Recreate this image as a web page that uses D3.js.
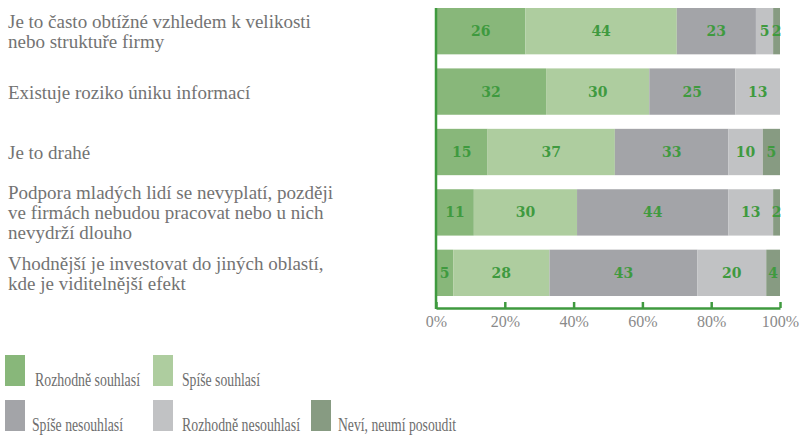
<!DOCTYPE html>
<html>
<head>
<meta charset="utf-8">
<script src="https://cdn.jsdelivr.net/npm/d3@7"></script>
<style>
  body { margin: 0; background: #fff; }
  svg { display: block; }
</style>
</head>
<body>
<div id="chart"></div>
<script>
var categories = [
    ['Je to často obtížné vzhledem k velikosti', 'nebo struktuře firmy'],
    ['Existuje roziko úniku informací'],
    ['Je to drahé'],
    ['Podpora mladých lidí se nevyplatí, později', 've firmách nebudou pracovat nebo u nich', 'nevydrží dlouho'],
    ['Vhodnější je investovat do jiných oblastí,', 'kde je viditelnější efekt']
];
var seriesNames = ['Rozhodně souhlasí', 'Spíše souhlasí', 'Spíše nesouhlasí', 'Rozhodně nesouhlasí', 'Neví, neumí posoudit'];
var rozhodneSouhlasi = [26, 32, 15, 11, 5];
var spiseSouhlasi = [44, 30, 37, 30, 28];
var spiseNesouhlasi = [23, 25, 33, 44, 43];
var rozhodneNesouhlasi = [5, 13, 10, 13, 20];
var neviNeumi = [2, 0, 5, 2, 4];
var tickValues = [0, 0.2, 0.4, 0.6, 0.8, 1];

var colors = ['#88b77a', '#aecd9f', '#a3a4a8', '#c1c2c4', '#879b82'];
var series = [rozhodneSouhlasi, spiseSouhlasi, spiseNesouhlasi, rozhodneNesouhlasi, neviNeumi];
var serif = "'Liberation Serif', 'Times New Roman', serif";

var width = 802, height = 435;
var svg = d3.select('#chart').append('svg')
    .attr('width', width)
    .attr('height', height);

var x = d3.scaleLinear().domain([0, 1]).range([436, 780]);
var y = d3.scaleBand().domain(d3.range(categories.length)).range([8, 296]).paddingInner(0.233);

// stacked rows
var rows = categories.map(function(c, i) {
    var row = {};
    seriesNames.forEach(function(s, j) { row[s] = series[j][i] / 100; });
    return row;
});
var stacked = d3.stack().keys(seriesNames)(rows);

var layers = svg.append('g').attr('class', 'bars')
    .selectAll('g')
    .data(stacked)
    .join('g')
    .attr('fill', function(d, i) { return colors[i]; });

layers.selectAll('rect')
    .data(function(d) { return d; })
    .join('rect')
    .attr('x', function(d) { return x(d[0]); })
    .attr('y', function(d, i) { return y(i); })
    .attr('width', function(d) { return x(d[1]) - x(d[0]); })
    .attr('height', y.bandwidth());

layers.selectAll('text')
    .data(function(d) { return d.filter(function(v) { return v[1] - v[0] > 0; }); })
    .join('text')
    .attr('x', function(d) { return (x(d[0]) + x(d[1])) / 2; })
    .attr('y', function(d) { return y(rows.indexOf(d.data)) + y.bandwidth() / 2 + 5; })
    .attr('text-anchor', 'middle')
    .attr('fill', '#3f9a3f')
    .style('font-family', "'DejaVu Serif', serif")
    .style('font-weight', 'bold')
    .style('font-size', '14px')
    .text(function(d) { return Math.round((d[1] - d[0]) * 100); });

// axis
var axis = svg.append('g').attr('class', 'axis')
    .attr('transform', 'translate(0,308)')
    .call(d3.axisBottom(x).tickValues(tickValues).tickSizeInner(-6).tickSizeOuter(0).tickPadding(8)
        .tickFormat(d3.format('.0%')));
axis.select('.domain').attr('stroke', '#3f9a3f').attr('stroke-width', 2.5);
axis.selectAll('.tick line').attr('stroke', '#3f9a3f').attr('stroke-width', 2.5);
axis.selectAll('.tick text')
    .attr('fill', '#8a8a8a')
    .style('font-family', serif)
    .style('font-size', '16px')
    .attr('dy', '0.71em');

svg.append('line')
    .attr('x1', x(0)).attr('x2', x(0))
    .attr('y1', 8).attr('y2', 309)
    .attr('stroke', '#3f9a3f')
    .attr('stroke-width', 2.5);

// category labels
var lineGap = 20;
svg.append('g').attr('class', 'labels')
    .selectAll('text')
    .data(categories)
    .join('text')
    .style('font-family', serif)
    .style('font-size', '19px')
    .attr('fill', '#737373')
    .each(function(lines, i) {
        var top = y(i) + y.bandwidth() / 2 - (lines.length - 1) * lineGap / 2 + 7;
        d3.select(this).selectAll('tspan')
            .data(lines)
            .join('tspan')
            .attr('x', 8)
            .attr('y', function(d, k) { return top + k * lineGap; })
            .text(function(d) { return d; });
    });

// legend
var legendPos = [[5, 355], [153, 355], [5, 400], [153, 400], [311, 400]];
var textPos = [[35, 386], [182, 386], [32, 431], [182, 431], [338, 431]];
var textLen = [105, 78, 91, 118, 118];
var legend = svg.append('g').attr('class', 'legend');
legend.selectAll('rect')
    .data(seriesNames)
    .join('rect')
    .attr('x', function(d, i) { return legendPos[i][0]; })
    .attr('y', function(d, i) { return legendPos[i][1]; })
    .attr('width', 20)
    .attr('height', 31)
    .attr('fill', function(d, i) { return colors[i]; });
legend.selectAll('text')
    .data(seriesNames)
    .join('text')
    .attr('x', function(d, i) { return textPos[i][0]; })
    .attr('y', function(d, i) { return textPos[i][1]; })
    .attr('textLength', function(d, i) { return textLen[i]; })
    .attr('lengthAdjust', 'spacingAndGlyphs')
    .style('font-family', serif)
    .style('font-size', '18px')
    .attr('fill', '#6e6e6e')
    .text(function(d) { return d; });
</script>
</body>
</html>
